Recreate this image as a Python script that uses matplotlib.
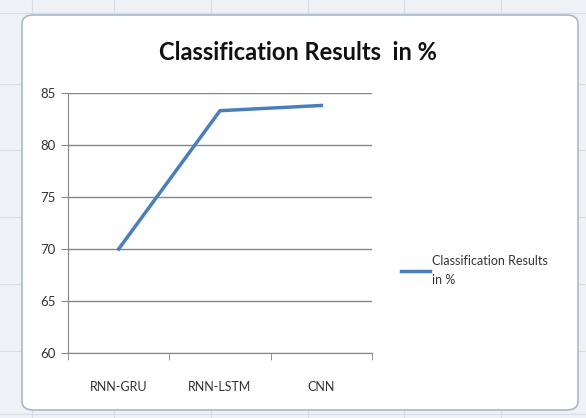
import matplotlib.pyplot as plt
from matplotlib.patches import FancyBboxPatch

# data
models = ['RNN-GRU', 'RNN-LSTM', 'CNN']
results = [70.0, 83.3, 83.8]
yticks = [60, 65, 70, 75, 80, 85]

fig = plt.figure(figsize=(5.86, 4.18), dpi=100)
fig.patch.set_facecolor('#eef2f6')

# excel-ish background grid (hidden under the chart box)
for gx in [0.055, 0.195, 0.36, 0.525, 0.69, 0.855]:
    fig.add_artist(plt.Line2D([gx, gx], [0, 1], color='#d6dde6', lw=0.8, zorder=-3))
for gy in [0.01, 0.16, 0.32, 0.48, 0.64, 0.80, 0.97]:
    fig.add_artist(plt.Line2D([0, 1], [gy, gy], color='#d6dde6', lw=0.8, zorder=-3))

box = FancyBboxPatch((22/586, 8/418), 556/586, 395/418,
                     boxstyle='round,pad=0,rounding_size=0.02',
                     transform=fig.transFigure, facecolor='white',
                     edgecolor='#a9b8c8', lw=1.2, zorder=-2)
fig.add_artist(box)

ax = fig.add_axes([68/586, 1 - 353/418, 304/586, 260/418])
ax.set_facecolor('none')
x = range(len(models))
ax.plot(x, results, color='#4a7ebb', lw=2.5, label='Classification Results\nin %')

ax.set_xlim(-0.5, len(models) - 0.5)
ax.set_ylim(60, 85)
ax.set_yticks(yticks)
ax.set_xticks(list(x))
ax.set_xticklabels(models, fontsize=9, color='#333333', family='Lato')
ax.set_xticks([-0.5, 0.5, 1.5, 2.5], minor=True)
ax.tick_params(axis='x', which='major', length=0, pad=20)
ax.tick_params(axis='x', which='minor', length=5, color='#868686', direction='out')
ax.tick_params(axis='y', length=5, color='#868686', labelsize=9.5, labelcolor='#333333', pad=4)
for t in ax.get_yticklabels():
    t.set_family('Lato')
ax.grid(axis='y', color='#868686', lw=1)
for s in ['top', 'right']:
    ax.spines[s].set_visible(False)
ax.spines['left'].set_color('#868686')
ax.spines['bottom'].set_color('#868686')
ax.set_axisbelow(True)

fig.text(0.508, 1 - 52/418, 'Classification Results  in %', ha='center', va='center',
         fontsize=17, fontweight='bold', family='Lato', color='#111111')

leg = fig.legend(loc='upper left', bbox_to_anchor=(390/586, 1 - 244/418), frameon=False,
                 handlelength=2.3, handletextpad=0.2, prop={'family': 'Lato', 'size': 9})
for t in leg.get_texts():
    t.set_color('#333333')
    t.set_linespacing(1.7)

fig.savefig('out.png', dpi=100)
